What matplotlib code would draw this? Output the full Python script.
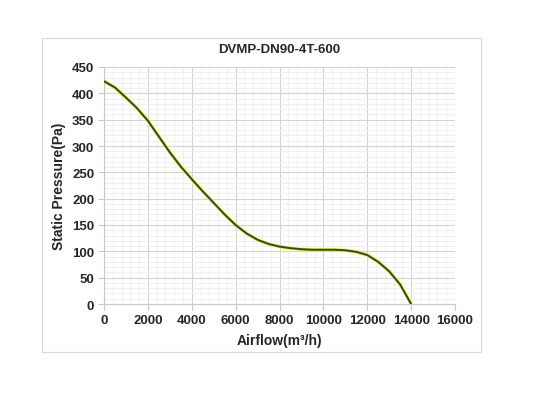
import matplotlib
matplotlib.use('Agg')
import matplotlib.pyplot as plt
from matplotlib.patches import Rectangle
from matplotlib.ticker import MultipleLocator

# Fan curve
airflow = [0, 500, 1000, 1500, 2000, 2500, 3000, 3500, 4000, 4500, 5000, 5500,
           6000, 6500, 7000, 7500, 8000, 8500, 9000, 9500, 10000, 10500, 11000,
           11500, 12000, 12500, 13000, 13500, 14000]
pressure = [423, 411, 392, 372, 348, 318, 288, 261, 237, 214, 192, 170,
            150, 134, 122, 114, 109, 106, 104, 103, 103, 103, 102,
            99, 93, 80, 62, 37, 0]

title = 'DVMP-DN90-4T-600'
xlabel = 'Airflow(m³/h)'
ylabel = 'Static Pressure(Pa)'

plt.rcParams['font.family'] = ['Liberation Sans', 'DejaVu Sans']

fig = plt.figure(figsize=(5.34, 4.02), dpi=100)
fig.patches.append(Rectangle((42 / 534, 1 - 353 / 402), (481 - 42) / 534, (353 - 39) / 402,
                             transform=fig.transFigure, fill=False,
                             edgecolor='#d9d9d9', linewidth=0.8))

ax = fig.add_axes([104 / 534, 1 - 305 / 402, (455 - 104) / 534, (305 - 68) / 402])

ax.plot(airflow, pressure, color='#e4ee3c', linewidth=2.4, solid_capstyle='round', zorder=3)
ax.plot(airflow, pressure, color='#3a4614', linewidth=1.4, solid_capstyle='round', zorder=4)

ax.set_xlim(0, 16000)
ax.set_ylim(0, 450)
ax.xaxis.set_major_locator(MultipleLocator(2000))
ax.xaxis.set_minor_locator(MultipleLocator(400))
ax.yaxis.set_major_locator(MultipleLocator(50))
ax.yaxis.set_minor_locator(MultipleLocator(10))
ax.grid(which='major', color='#d4d4d4', linewidth=0.8)
ax.grid(which='minor', color='#eeeeee', linewidth=0.6)
ax.set_axisbelow(True)

for side in ['top', 'right']:
    ax.spines[side].set_visible(False)
for side in ['left', 'bottom']:
    ax.spines[side].set_color('#c8c8c8')
    ax.spines[side].set_linewidth(0.8)

ax.tick_params(which='major', length=4, color='#c8c8c8', width=0.8,
               labelcolor='#262626', labelsize=9.5, pad=3)
ax.tick_params(which='minor', length=0)
for lab in ax.get_xticklabels() + ax.get_yticklabels():
    lab.set_fontweight('bold')

ax.set_title(title, fontsize=9.5, fontweight='bold', color='#262626', pad=11)
ax.set_xlabel(xlabel, fontsize=10, fontweight='bold', color='#262626', labelpad=5)
ax.set_ylabel(ylabel, fontsize=10, fontweight='bold', color='#262626', labelpad=4)

fig.savefig('out.png', dpi=100)
